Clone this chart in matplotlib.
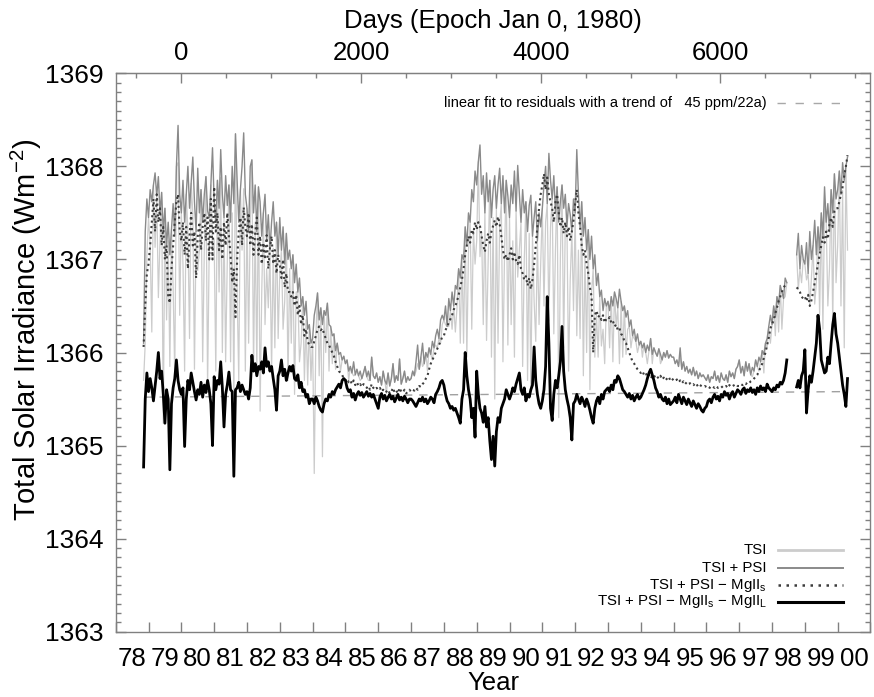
import numpy as np
import matplotlib
matplotlib.use("Agg")
import matplotlib.pyplot as plt
from matplotlib.lines import Line2D
from matplotlib.ticker import FixedLocator, MultipleLocator, NullFormatter, FixedFormatter, FuncFormatter

plt.rcParams['font.family'] = ['Liberation Sans', 'DejaVu Sans']

# ---------------- data (values in 0.01 W/m^2 above 1365 W/m^2) ----------------
t_start = 1978.85      # first sample (year)
t_step = 0.05          # sampling step (year)
base_irr = 1365.0
unit = 0.01
N = None

# TSI + PSI (grey)
G_1978 = [110, 230, 265]
G_1979 = [245, 275, 262, 280, 293, 268, 289, 250, 272, 230, 255, 215, 240, 205, 232, 260, 225, 300, 344, 270]
G_1980 = [250, 285, 240, 270, 300, 255, 282, 310, 262, 230, 298, 250, 275, 240, 270, 289, 252, 245, 280, 320]
G_1981 = [262, 240, 285, 255, 318, 270, 245, 290, 258, 280, 240, 300, 260, 335, 285, 240, 275, 300, 336, 270]
G_1982 = [255, 230, 300, 307, 250, 280, 230, 278, 262, 225, 250, 270, 220, 248, 210, 240, 262, 225, 240, 205]
G_1983 = [245, 210, 235, 195, 228, 200, 210, 190, 205, 175, 195, 165, 180, 150, 160, 140, 155, 125, 130, 110]
G_1984 = [115, 140, 150, 164, 135, 148, 130, 145, 140, 153, 130, 128, 118, 120, 102, 110, 98, 100, 92, 96]
G_1985 = [88, 92, 80, 85, 78, 90, 76, 82, 75, 80, 72, 78, 85, 74, 80, 70, 95, 75, 72, 78]
G_1986 = [68, 74, 65, 80, 70, 66, 78, 64, 72, 88, 68, 75, 70, 93, 66, 72, 80, 68, 74, 70]
G_1987 = [72, 80, 75, 90, 108, 82, 95, 110, 88, 100, 95, 105, 98, 112, 105, 118, 125, 115, 135, 140]
G_1988 = [135, 150, 128, 158, 145, 165, 150, 172, 168, 190, 180, 205, 200, 235, 215, 250, 240, 275, 262, 295]
G_1989 = [280, 305, 323, 270, 290, 250, 293, 262, 285, 245, 275, 290, 255, 280, 298, 260, 290, 250, 285, 268]
G_1990 = [245, 280, 260, 295, 252, 301, 270, 240, 275, 250, 262, 230, 258, 269, 225, 245, 262, 220, 250, 235]
G_1991 = [255, 280, 300, 260, 314, 285, 265, 290, 250, 278, 240, 262, 280, 255, 270, 235, 260, 248, 230, 265]
G_1992 = [250, 318, 270, 235, 262, 225, 245, 210, 232, 200, 225, 190, 205, 172, 185, 160, 167, 145, 158, 150]
G_1993 = [155, 145, 160, 150, 165, 158, 148, 168, 155, 145, 150, 138, 145, 128, 135, 118, 125, 112, 120, 108]
G_1994 = [112, 105, 110, 100, 108, 102, 115, 98, 105, 100, 96, 104, 98, 92, 100, 95, 102, 94, 98, 95]
G_1995 = [95, 88, 92, 85, 105, 82, 90, 80, 85, 78, 82, 76, 84, 75, 80, 72, 78, 74, 76, 73]
G_1996 = [70, 76, 68, 74, 72, 80, 70, 75, 68, 78, 72, 70, 76, 68, 80, 74, 78, 72, 82, 85]
G_1997 = [92, 78, 85, 75, 90, 80, 88, 76, 84, 80, 92, 85, 95, 90, 102, 98, 110, 115, 128, 140]
G_1998 = [130, 150, 138, 160, 152, 172, 165, 158, 180, 175, N, N, N, N, N, 205, 228, 190, 215, 200]
G_1999 = [195, 218, 185, 230, 200, 215, 242, 205, 235, 210, 250, 225, 278, 240, 260, 230, 275, 250, 292, 265]
G_2000 = [275, 295, 270, 304, 285, 300, 310]

# TSI + PSI - MgII_s (dotted)
D_1978 = [106, 150, 185]
D_1979 = [195, 215, 240, 265, 230, 270, 240, 255, 215, 235, 200, 215, 160, 153, 190, 215, 240, 262, 270, 230]
D_1980 = [220, 240, 205, 235, 190, 225, 250, 215, 230, 180, 225, 240, 210, 235, 250, 220, 245, 200, 265, 200]
D_1981 = [278, 230, 250, 210, 235, 200, 240, 215, 250, 225, 205, 175, 190, 138, 200, 230, 245, 215, 256, 235]
D_1982 = [225, 250, 215, 238, 205, 228, 245, 205, 225, 195, 218, 200, 226, 190, 212, 225, 195, 210, 185, 205]
D_1983 = [195, 180, 200, 170, 185, 165, 165, 160, 165, 150, 162, 140, 150, 130, 140, 118, 125, 112, 108, 106]
D_1984 = [106, 112, 118, 125, 128, 124, 126, 120, 115, 110, 108, 104, 100, 96, 90, 85, 80, 78, 76, 72]
D_1985 = [70, 72, 68, 70, 66, 70, 65, 68, 64, 66, 63, 66, 65, 62, 64, 60, 66, 62, 60, 62]
D_1986 = [60, 62, 58, 60, 57, 58, 60, 56, 58, 62, 57, 59, 56, 62, 58, 57, 60, 56, 58, 60]
D_1987 = [58, 60, 59, 62, 60, 64, 63, 66, 68, 72, 75, 82, 88, 92, 96, 100, 104, 108, 112, 117]
D_1988 = [118, 124, 128, 132, 136, 140, 146, 150, 155, 162, 170, 178, 190, 205, 215, 225, 218, 232, 228, 240]
D_1989 = [232, 240, 236, 225, 215, 208, 220, 228, 218, 230, 236, 242, 235, 246, 238, 225, 210, 200, 205, 198]
D_1990 = [205, 212, 200, 208, 198, 195, 205, 190, 185, 178, 182, 172, 180, 168, 178, 195, 215, 235, 255, 270]
D_1991 = [280, 292, 275, 288, 270, 262, 255, 240, 262, 270, 250, 235, 245, 228, 240, 225, 235, 220, 230, 242]
D_1992 = [260, 275, 250, 235, 215, 205, 210, 195, 185, 170, 160, 100, 140, 145, 138, 140, 135, 140, 132, 136]
D_1993 = [135, 138, 132, 134, 128, 130, 124, 126, 120, 118, 112, 110, 105, 100, 95, 90, 88, 85, 82, 80]
D_1994 = [78, 80, 76, 78, 74, 76, 72, 75, 73, 76, 74, 72, 75, 71, 73, 70, 72, 74, 70, 72]
D_1995 = [70, 69, 71, 68, 70, 67, 69, 66, 68, 66, 67, 65, 66, 64, 66, 63, 65, 64, 63, 64]
D_1996 = [63, 64, 62, 64, 63, 62, 64, 62, 63, 64, 62, 63, 64, 62, 65, 63, 64, 65, 66, 64]
D_1997 = [64, 66, 65, 67, 66, 68, 67, 69, 70, 72, 74, 76, 80, 84, 88, 94, 100, 108, 116, 126]
D_1998 = [130, 135, 142, 148, 155, 160, 165, 170, 172, 170, N, N, N, N, N, 170, 168, 165, 160, 158]
D_1999 = [160, 155, 162, 150, 156, 165, 175, 185, 195, 205, 215, 224, 218, 230, 222, 238, 245, 235, 252, 255]
D_2000 = [255, 262, 270, 278, 290, 300, 312]

# TSI + PSI - MgII_s - MgII_L (black)
B_1978 = [-23, 50, 78]
B_1979 = [58, 72, 62, 48, 64, 80, 100, 72, 80, 55, 24, 60, 50, -26, 45, 62, 72, 92, 70, 60]
B_1980 = [55, 62, -1, 50, 70, 60, 78, 68, 58, 49, 60, 55, 68, 52, 65, 57, 70, 60, 45, 0]
B_1981 = [74, 60, 70, 66, 90, 62, 20, 55, 65, 79, 60, 58, -33, 60, 62, 68, 58, 65, 60, 55]
B_1982 = [58, 50, 62, 97, 80, 88, 75, 85, 82, 90, 78, 105, 85, 90, 80, 85, 72, 60, 38, 75]
B_1983 = [80, 92, 75, 82, 70, 78, 85, 80, 86, 72, 70, 76, 62, 68, 58, 60, 52, 55, 45, 50]
B_1984 = [50, 45, 52, 48, 42, 38, 36, 45, 50, 48, 55, 52, 58, 55, 60, 63, 66, 62, 70, 72]
B_1985 = [70, 62, 58, 60, 52, 56, 49, 55, 58, 54, 57, 52, 55, 58, 53, 56, 52, 55, 50, 45]
B_1986 = [40, 52, 56, 50, 54, 48, 52, 55, 50, 53, 47, 51, 55, 49, 52, 48, 53, 50, 46, 50]
B_1987 = [50, 48, 45, 42, 46, 50, 48, 52, 47, 50, 45, 48, 52, 50, 46, 55, 58, 62, 68, 70]
B_1988 = [65, 55, 48, 45, 40, 42, 38, 40, 35, 30, 24, 50, 60, 100, 75, 60, 50, 30, 40, 9]
B_1989 = [80, 55, 40, 35, 25, 42, 20, 30, 5, -15, 10, -22, 15, 30, 25, 40, 45, 50, 60, 55]
B_1990 = [50, 55, 62, 58, 66, 72, 78, 60, 55, 62, 48, 55, 52, 60, 65, 106, 70, 55, 45, 40]
B_1991 = [48, 60, 85, 160, 110, 40, 27, 55, 70, 62, 75, 90, 128, 80, 60, 50, 42, 30, 6, 45]
B_1992 = [48, 55, 50, 45, 52, 48, 42, 50, 45, 38, 30, 24, 40, 48, 52, 45, 55, 50, 58, 60]
B_1993 = [62, 58, 65, 60, 70, 68, 75, 72, 66, 60, 58, 55, 52, 56, 50, 54, 48, 52, 55, 50]
B_1994 = [52, 56, 60, 65, 72, 78, 82, 76, 70, 62, 58, 52, 55, 50, 48, 52, 45, 50, 44, 46]
B_1995 = [48, 52, 46, 55, 50, 45, 52, 48, 44, 50, 46, 42, 48, 44, 40, 45, 42, 38, 36, 40]
B_1996 = [42, 48, 50, 46, 52, 55, 50, 53, 48, 55, 52, 58, 54, 56, 50, 55, 58, 52, 56, 60]
B_1997 = [58, 55, 60, 62, 56, 60, 58, 62, 57, 60, 55, 62, 58, 64, 60, 62, 58, 66, 62, 60]
B_1998 = [58, 62, 60, 65, 63, 68, 66, 70, 78, 92, N, N, N, N, N, 63, 70, 62, 75, 80]
B_1999 = [103, 35, 60, 75, 68, 80, 95, 110, 140, 125, 92, 85, 78, 80, 95, 88, 110, 130, 142, 120]
B_2000 = [110, 95, 80, 65, 55, 42, 72]

# PSI (sunspot darkening, subtracted from TSI+PSI to give TSI)
P_1978 = [40, 120, 60]
P_1979 = [0, 60, 140, 0, 80, 0, 130, 30, 0, 206, 0, 80, 20, 120, 0, 90, 150, 0, 40, 130]
P_1980 = [0, 90, 160, 0, 70, 140, 0, 60, 180, 0, 110, 40, 0, 150, 60, 0, 190, 30, 0, 110]
P_1981 = [40, 160, 0, 90, 30, 170, 0, 200, 60, 0, 150, 50, 210, 0, 120, 170, 0, 90, 60, 190]
P_1982 = [0, 120, 60, 0, 170, 40, 150, 0, 225, 60, 0, 140, 30, 100, 0, 160, 50, 120, 0, 90]
P_1983 = [60, 0, 110, 40, 0, 130, 20, 80, 0, 120, 30, 0, 90, 40, 0, 70, 20, 60, 0, 40]
P_1984 = [0, 170, 30, 0, 60, 0, 142, 0, 40, 0, 50, 0, 30, 0, 20, 0, 0, 20, 0, 0]
P_1985 = [0, 0, 10, 0, 0, 15, 0, 0, 0, 10, 0, 0, 0, 0, 10, 0, 0, 0, 0, 0]
P_1986 = [0, 0, 0, 0, 0, 10, 0, 0, 0, 0, 0, 0, 0, 0, 0, 0, 0, 0, 0, 0]
P_1987 = [0, 0, 0, 10, 20, 0, 0, 25, 0, 0, 15, 0, 0, 20, 0, 10, 20, 0, 25, 10]
P_1988 = [0, 20, 0, 30, 0, 40, 0, 50, 20, 0, 70, 0, 90, 0, 120, 40, 0, 150, 30, 100]
P_1989 = [60, 0, 120, 40, 160, 0, 180, 60, 0, 150, 30, 240, 0, 170, 60, 0, 200, 40, 0, 160]
P_1990 = [0, 150, 40, 200, 0, 120, 60, 0, 190, 50, 0, 160, 30, 210, 0, 90, 150, 0, 120, 40]
P_1991 = [0, 130, 60, 0, 180, 50, 0, 170, 40, 0, 210, 60, 0, 150, 30, 0, 180, 70, 0, 120]
P_1992 = [0, 200, 60, 120, 0, 150, 40, 110, 0, 140, 60, 0, 110, 30, 90, 0, 60, 20, 70, 0]
P_1993 = [0, 40, 0, 60, 0, 30, 0, 80, 0, 50, 0, 40, 20, 0, 30, 0, 10, 0, 20, 0]
P_1994 = [0, 10, 0, 0, 20, 0, 0, 10, 0, 0, 0, 0, 10, 0, 0, 0, 0, 0, 0, 0]
P_1995 = [0, 0, 0, 0, 10, 0, 0, 0, 0, 0, 0, 0, 0, 0, 0, 0, 0, 0, 0, 0]
P_1996 = [0, 0, 0, 0, 0, 0, 0, 0, 0, 0, 0, 0, 0, 0, 0, 0, 0, 0, 0, 0]
P_1997 = [0, 0, 0, 0, 0, 0, 0, 0, 10, 0, 0, 0, 15, 0, 0, 20, 0, 10, 0, 30]
P_1998 = [0, 0, 20, 0, 30, 0, 40, 0, 20, 0, 0, 0, 0, 0, 0, 0, 60, 0, 40, 0]
P_1999 = [0, 40, 0, 80, 20, 0, 90, 30, 0, 70, 0, 100, 20, 0, 110, 40, 0, 120, 0, 90]
P_2000 = [60, 0, 120, 30, 180, 0, 100]

# linear fit to residuals
fit_years = [1978.87, 2000.30]
fit_values = [1365.52, 1365.58]

year_labels = ['78', '79', '80', '81', '82', '83', '84', '85', '86', '87', '88', '89',
               '90', '91', '92', '93', '94', '95', '96', '97', '98', '99', '00']
day_ticks = [0, 2000, 4000, 6000]
legend_labels = ['TSI', 'TSI + PSI', 'TSI + PSI \u2212 MgII$_\\mathregular{s}$',
                 'TSI + PSI \u2212 MgII$_\\mathregular{s}$ \u2212 MgII$_\\mathregular{L}$']
fit_label = 'linear fit to residuals with a trend of   45 ppm/22a)'

# ---------------- assemble ----------------
def series(prefix):
    blocks = [globals()[f"{prefix}_{y}"] for y in range(1978, 2001)]
    vals = [np.nan if v is None else v for b in blocks for v in b]
    return np.array(vals, dtype=float)

g = series('G')
d = series('D')
b = series('B')
p = series('P')
n = len(g)
years = t_start + t_step * np.arange(n)
tsi_psi = base_irr + unit * g
tsi_psi_mgs = base_irr + unit * d
tsi_res = base_irr + unit * b
tsi = tsi_psi - unit * p

# ---------------- figure ----------------
W, H = 874, 697
fig = plt.figure(figsize=(W / 100, H / 100), dpi=100)
L, R, T, Bt = 115.7, 870.5, 73.3, 631.7
ax = fig.add_axes([L / W, 1 - Bt / H, (R - L) / W, (Bt - T) / H])

c_tsi, c_psi, c_dot, c_res = '#cccccc', '#8a8a8a', '#3c3c3c', '#000000'
ax.plot(years, tsi, color=c_tsi, lw=0.9, zorder=2)
ax.plot(years, tsi_psi, color=c_psi, lw=1.0, zorder=3)
ax.plot(years, tsi_psi_mgs, color=c_dot, lw=1.5, linestyle=(0, (1, 1.6)), zorder=4)
ax.plot(fit_years, fit_values, color='#a0a0a0', lw=1.0, dashes=(6, 5), zorder=5)
ax.plot(years, tsi_res, color=c_res, lw=2.0, zorder=6)

ax.set_xlim(1978, 2001)
ax.set_ylim(1363, 1369)

spine_c = '#808080'
for s in ax.spines.values():
    s.set_color(spine_c)
    s.set_linewidth(1.0)

# bottom: year boundaries as ticks, labels at mid-year
ax.xaxis.set_major_locator(FixedLocator(np.arange(1978, 2002)))
ax.xaxis.set_major_formatter(NullFormatter())
ax.xaxis.set_minor_locator(FixedLocator(np.arange(1978, 2001) + 0.5))
ax.xaxis.set_minor_formatter(FixedFormatter(year_labels))
ax.tick_params(axis='x', which='major', direction='in', length=7, width=1, color=spine_c, top=False)
ax.tick_params(axis='x', which='minor', length=0, labelsize=18.5, pad=11, top=False)

ax.yaxis.set_major_locator(MultipleLocator(1))
ax.yaxis.set_minor_locator(MultipleLocator(0.1))
ax.yaxis.set_major_formatter(FuncFormatter(lambda v, pos: f"{v:.0f}"))
ax.tick_params(axis='y', which='both', direction='in', left=True, right=True, color=spine_c, width=1)
ax.tick_params(axis='y', which='major', length=7, labelsize=19, pad=9)
ax.tick_params(axis='y', which='minor', length=3.5)

ax.set_xlabel('Year', fontsize=18.5, labelpad=0)
ax.set_ylabel('Total Solar Irradiance (Wm$^{\\mathregular{-2}}$)', fontsize=21)
ax.yaxis.set_label_coords(-0.095, 0.54)

# top axis: days since 1980 Jan 0
def y2d(x):
    return (np.asarray(x) - 1980.0) * 365.25

def d2y(x):
    return 1980.0 + np.asarray(x) / 365.25

sec = ax.secondary_xaxis('top', functions=(y2d, d2y))
sec.xaxis.set_major_locator(FixedLocator(day_ticks))
sec.xaxis.set_minor_locator(MultipleLocator(500))
sec.tick_params(which='both', direction='in', color=spine_c, width=1)
sec.tick_params(which='major', length=7, labelsize=18.5, pad=6)
sec.tick_params(which='minor', length=3.5)
sec.spines['top'].set_color(spine_c)
sec.set_xlabel('Days (Epoch Jan 0, 1980)', fontsize=18.5, labelpad=9)

# legend drawn in axes coordinates
def ax_x(px):
    return (px - L) / (R - L)

def ax_y(py):
    return (Bt - py) / (Bt - T)

leg_rows = [550, 567.5, 585, 602]
leg_styles = [dict(color=c_tsi, lw=2.0), dict(color=c_psi, lw=1.4),
              dict(color=c_dot, lw=1.8, linestyle=(0, (1, 2.2))), dict(color=c_res, lw=2.2)]
for lab, row, st in zip(legend_labels, leg_rows, leg_styles):
    ax.text(ax_x(767), ax_y(row), lab, transform=ax.transAxes, ha='right', va='center', fontsize=10.8)
    ax.add_line(Line2D([ax_x(778), ax_x(843)], [ax_y(row), ax_y(row)], transform=ax.transAxes, **st))

ax.text(ax_x(767), ax_y(103), fit_label, transform=ax.transAxes, ha='right', va='center', fontsize=10.5)
ax.add_line(Line2D([ax_x(777), ax_x(843)], [ax_y(103), ax_y(103)], transform=ax.transAxes,
                   color='#a8a8a8', lw=1.0, dashes=(6, 7)))

fig.savefig('out.png', dpi=100)
